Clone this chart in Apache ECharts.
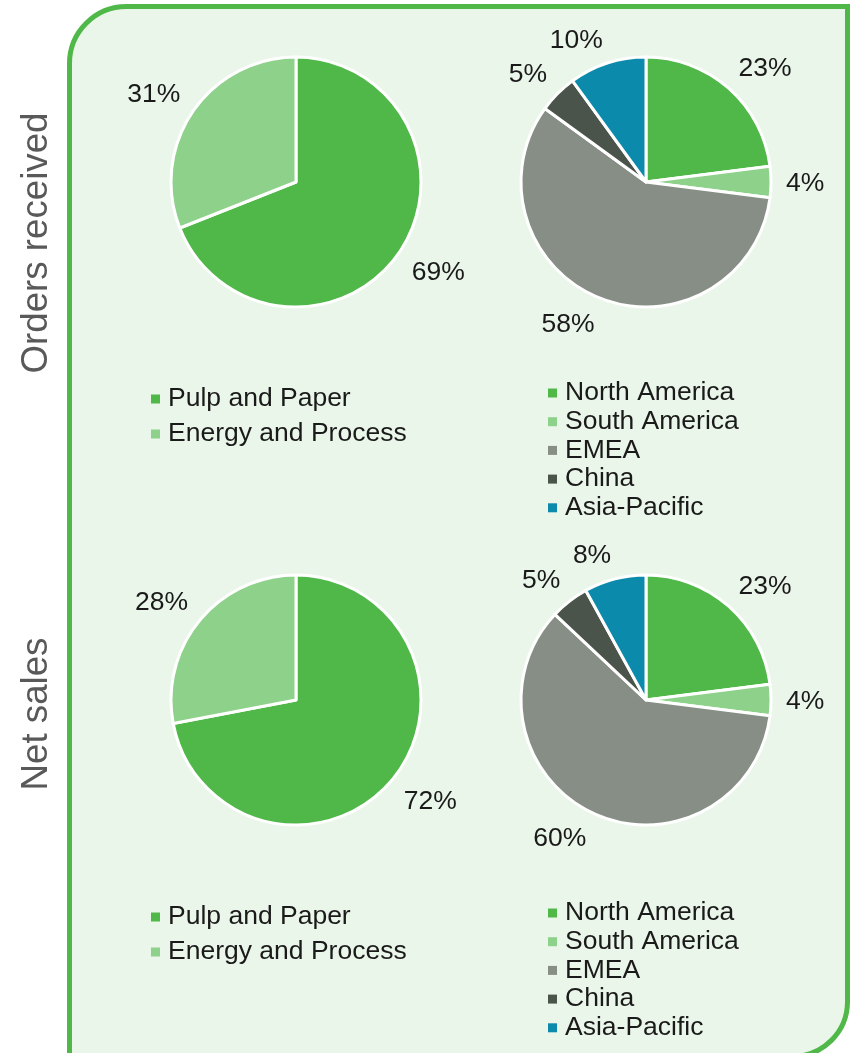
<!DOCTYPE html>
<html>
<head>
<meta charset="utf-8">
<script src="https://cdn.jsdelivr.net/npm/echarts@6/dist/echarts.min.js"></script>
<style>
  html, body { margin: 0; padding: 0; background: #ffffff; }
  #main { width: 853px; height: 1053px; }
</style>
</head>
<body>
<div id="main"></div>
<script>
  // data
  var segmentNames = ['Pulp and Paper', 'Energy and Process'];
  var regionNames = ['North America', 'South America', 'EMEA', 'China', 'Asia-Pacific'];
  var ordersBySegment = [69, 31];
  var ordersByRegion = [23, 4, 58, 5, 10];
  var salesBySegment = [72, 28];
  var salesByRegion = [23, 4, 60, 5, 8];
  var rowTitles = ['Orders received', 'Net sales'];

  var segmentColors = ['#50b848', '#8ed18a'];
  var regionColors = ['#50b848', '#8ed18a', '#868e86', '#4b544b', '#0b8aab'];
  var font = 'Liberation Sans, Arial, sans-serif';

  var pieRadius = 125;
  var pieCenters = [[296, 182], [646, 182], [296, 700], [646, 700]];
  var pieValues = [ordersBySegment, ordersByRegion, salesBySegment, salesByRegion];

  function toData(names, values) {
    return names.map(function (n, i) { return { name: n, value: values[i] }; });
  }

  function clamp1(v) { return Math.max(-1, Math.min(1, v)); }

  // put the % label just outside the slice, office style:
  // the label box touches a point a bit beyond the edge at the slice's mid angle
  function placeLabel(params) {
    var values = pieValues[params.seriesIndex];
    var c = pieCenters[params.seriesIndex];
    var total = 0, before = 0;
    for (var i = 0; i < values.length; i++) {
      total += values[i];
      if (i < params.dataIndex) before += values[i];
    }
    var mid = (before + values[params.dataIndex] / 2) / total * Math.PI * 2;
    var dx = Math.sin(mid), dy = -Math.cos(mid);
    var R = pieRadius + 15;
    var w = params.labelRect.width, h = params.labelRect.height;
    return {
      x: c[0] + R * dx + clamp1(dx * 5) * w / 2,
      y: c[1] + R * dy + clamp1(dy * 5) * h * 0.38 + 2,
      align: 'center',
      verticalAlign: 'middle'
    };
  }

  function pie(idx, names, colors) {
    return {
      type: 'pie',
      center: pieCenters[idx],
      radius: pieRadius,
      startAngle: 90,
      clockwise: true,
      avoidLabelOverlap: false,
      color: colors,
      label: {
        show: true,
        position: 'outside',
        formatter: '{c}%',
        color: '#1a1a1a',
        fontSize: 26.5,
        fontFamily: font
      },
      labelLine: { show: false },
      labelLayout: placeLabel,
      itemStyle: { borderColor: '#ffffff', borderWidth: 3 },
      emphasis: { disabled: true },
      data: toData(names, pieValues[idx])
    };
  }

  function legend(names, left, top, gap) {
    return {
      orient: 'vertical',
      left: left,
      top: top,
      padding: 0,
      itemWidth: 9,
      itemHeight: 9,
      itemGap: gap,
      icon: 'rect',
      selectedMode: false,
      itemStyle: { borderWidth: 0 },
      data: names,
      textStyle: { fontSize: 26.5, lineHeight: 27, color: '#1a1a1a', fontFamily: font, padding: [0, 0, 0, 3] }
    };
  }

  var option = {
    backgroundColor: '#ffffff',
    animation: false,
    graphic: [
      {
        type: 'rect',
        z: -10,
        shape: { x: 69.5, y: 6.5, width: 778, height: 1050, r: [57, 0, 55, 0] },
        style: { fill: '#ebf6ea', stroke: '#50b848', lineWidth: 5 }
      },
      {
        type: 'text',
        x: 37, y: 243,
        rotation: Math.PI / 2,
        style: { text: rowTitles[0], fontSize: 36.7, fontFamily: font, fill: '#595959', align: 'center', verticalAlign: 'middle' }
      },
      {
        type: 'text',
        x: 37, y: 714,
        rotation: Math.PI / 2,
        style: { text: rowTitles[1], fontSize: 36.7, fontFamily: font, fill: '#595959', align: 'center', verticalAlign: 'middle' }
      }
    ],
    legend: [
      legend(segmentNames, 151, 385.5, 8),
      legend(regionNames, 548, 379.5, 1.7),
      legend(segmentNames, 151, 903.5, 8),
      legend(regionNames, 548, 899.5, 1.7)
    ],
    series: [
      pie(0, segmentNames, segmentColors),
      pie(1, regionNames, regionColors),
      pie(2, segmentNames, segmentColors),
      pie(3, regionNames, regionColors)
    ]
  };

  var chart = echarts.init(document.getElementById('main'));
  chart.setOption(option);
</script>
</body>
</html>
